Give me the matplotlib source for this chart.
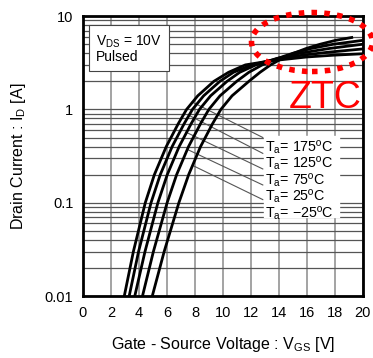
import matplotlib
matplotlib.use('Agg')
import matplotlib.pyplot as plt
from matplotlib.patches import Ellipse
from matplotlib.ticker import FixedLocator, NullFormatter

plt.rcParams['font.family'] = ['Liberation Sans', 'DejaVu Sans']
plt.rcParams['mathtext.fontset'] = 'custom'
plt.rcParams['mathtext.rm'] = 'Liberation Sans'

# curves (VGS [V], ID [A])
v_175 = [2.95, 3.6, 4.45, 5.1, 5.95, 6.8, 7.4, 8.2, 9.35, 10.4, 11.6, 13.3, 16.0, 18.0, 20.0]
i_175 = [0.01, 0.03, 0.1, 0.2, 0.4, 0.7, 1.0, 1.4, 2.0, 2.5, 3.0, 3.3, 3.65, 3.82, 3.95]
v_125 = [3.3, 3.97, 4.86, 5.52, 6.37, 7.22, 7.82, 8.62, 9.78, 10.75, 12.05, 13.6, 15.6, 17.5, 20.0]
i_125 = [0.01, 0.03, 0.1, 0.2, 0.4, 0.7, 1.0, 1.4, 2.0, 2.5, 3.0, 3.4, 3.8, 4.1, 4.45]
v_75 = [3.7, 4.43, 5.35, 6.02, 6.87, 7.72, 8.32, 9.12, 10.29, 11.2, 12.35, 13.8, 15.5, 17.6, 20.0]
i_75 = [0.01, 0.03, 0.1, 0.2, 0.4, 0.7, 1.0, 1.4, 2.0, 2.5, 3.0, 3.5, 4.0, 4.5, 5.0]
v_25 = [4.25, 5.03, 6.01, 6.69, 7.54, 8.39, 8.99, 9.79, 10.98, 11.85, 12.8, 13.85, 15.0, 16.3, 17.9, 20.0]
i_25 = [0.01, 0.03, 0.1, 0.2, 0.4, 0.7, 1.0, 1.4, 2.0, 2.5, 3.0, 3.5, 4.0, 4.5, 5.0, 5.5]
v_m25 = [4.95, 5.8, 6.85, 7.55, 8.4, 9.25, 9.85, 10.65, 11.85, 12.65, 13.4, 14.2, 15.05, 15.95, 16.95, 18.05, 19.2]
i_m25 = [0.01, 0.03, 0.1, 0.2, 0.4, 0.7, 1.0, 1.4, 2.0, 2.5, 3.0, 3.5, 4.0, 4.5, 5.0, 5.5, 5.9]

labels = ['T$_\\mathregular{a}$= 175ºC', 'T$_\\mathregular{a}$= 125ºC',
          'T$_\\mathregular{a}$= 75ºC', 'T$_\\mathregular{a}$= 25ºC',
          'T$_\\mathregular{a}$= \u221225ºC']
# leader line end points on each curve
lead_v = [7.8, 7.6, 7.36, 7.5, 7.86]
lead_i = [1.2, 0.86, 0.57, 0.37, 0.25]
label_i = [0.39, 0.264, 0.173, 0.117, 0.077]
label_lead_i = [0.50, 0.338, 0.23, 0.155, 0.108]

xticks = list(range(0, 21, 2))
yticks = [0.01, 0.1, 1, 10]
ytick_labels = ['0.01', '0.1', '1', '10']

fig = plt.figure(figsize=(3.73, 3.58), dpi=100)
ax = fig.add_axes([0.2225, 0.173, 0.7505, 0.782])
ax.set_yscale('log')
ax.set_xlim(0, 20)
ax.set_ylim(0.01, 10)

ax.xaxis.set_major_locator(FixedLocator(xticks))
ax.yaxis.set_major_locator(FixedLocator(yticks))
ax.set_yticklabels(ytick_labels)
minor = [m * 10.0 ** e for e in (-2, -1, 0) for m in range(2, 10)]
ax.yaxis.set_minor_locator(FixedLocator(minor))
ax.yaxis.set_minor_formatter(NullFormatter())
ax.tick_params(which='both', length=0, labelsize=10.5, pad=7)
ax.grid(True, axis='x', color='#8a8a8a', lw=1.1)
ax.grid(True, axis='y', which='both', color='#555555', lw=0.9)
ax.set_axisbelow(True)
for s in ax.spines.values():
    s.set_linewidth(2)

curves = [(v_175, i_175), (v_125, i_125), (v_75, i_75), (v_25, i_25), (v_m25, i_m25)]
for v, i in curves:
    ax.plot(v, i, color='black', lw=2, solid_joinstyle='round', zorder=3)

for k in range(5):
    ax.plot([lead_v[k], 12.85], [lead_i[k], label_lead_i[k]], color='#555555', lw=0.8, zorder=2)

ax.fill_between([12.9, 18.3], 0.07, 0.52, color='white', zorder=2.5)
for k in range(5):
    ax.text(13.0, label_i[k], labels[k], fontsize=10.3, va='center', ha='left', zorder=4)

ax.text(0.93, 4.5, 'V$_\\mathregular{DS}$ = 10V\nPulsed', fontsize=10, va='center', ha='left',
        linespacing=1.0, zorder=4,
        bbox=dict(boxstyle='square,pad=0.5', fc='white', ec='#444444', lw=0.8))

ax.set_xlabel('Gate - Source Voltage : V$_\\mathregular{GS}$ [V]', fontsize=11.5, labelpad=11)
ax.set_ylabel('Drain Current : I$_\\mathregular{D}$ [A]', fontsize=11.5, labelpad=12)

ell = Ellipse((312 / 373, 1 - 42 / 358), 121 / 373, 59 / 358, transform=fig.transFigure,
              fill=False, ec='#ff0000', lw=4, ls=(0, (1, 1.3)), zorder=10)
ell.set_capstyle('butt')
fig.patches.append(ell)
fig.text(325 / 373, 1 - 98 / 358, 'ZTC', color='#ff0000', fontsize=27, ha='center', va='center')

fig.savefig('out.png', dpi=100)
